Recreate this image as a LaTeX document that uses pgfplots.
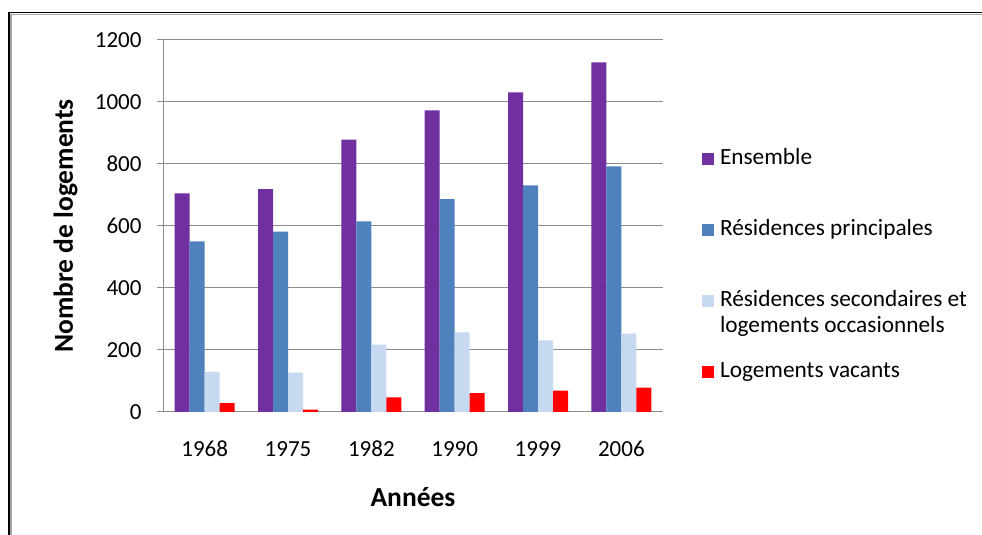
\documentclass[border=0pt]{standalone}
\usepackage{fontspec}
\setmainfont{Carlito}
\usepackage{pgfplots}
\pgfplotsset{compat=1.18}
\definecolor{cPurple}{HTML}{7030A0}
\definecolor{cBlue}{HTML}{4F81BD}
\definecolor{cLight}{HTML}{C6D9F1}
\definecolor{cRed}{HTML}{FF0000}
\definecolor{cGrid}{RGB}{140,140,140}
\begin{document}
\begin{tikzpicture}
\useasboundingbox (0,0) rectangle (982pt,535pt);
\begin{scope}
\clip (0,0) rectangle (982pt,535pt);
\draw[black, line width=1.7pt] (9pt,-5pt) -- (9pt,522.5pt) -- (995pt,522.5pt);
\draw[gray!70, line width=1.5pt] (10.9pt,-5pt) -- (10.9pt,520.6pt) -- (995pt,520.6pt);
\end{scope}
\begin{axis}[
  at={(163pt,123pt)}, anchor=south west,
  scale only axis, width=500pt, height=372pt,
  ybar=0pt, bar width=15pt,
  xmin=-0.5, xmax=5.5, ymin=0, ymax=1200,
  xtick=data, xticklabels={1968,1975,1982,1990,1999,2006},
  ytick={0,200,400,600,800,1000,1200},
  axis x line*=bottom, axis y line*=left,
  axis line style={draw=cGrid, line width=1pt, -},
  x axis line style={-}, y axis line style={-},
  xtick style={draw=none},
  ytick style={draw=cGrid, line width=1pt},
  tick align=outside, major tick length=6.5pt,
  ymajorgrids, grid style={draw=cGrid, line width=1pt},
  /pgf/number format/assume math mode=true,
  /pgf/number format/1000 sep={},
  tick label style={font=\fontsize{23}{27}\selectfont},
  yticklabel style={inner sep=0pt, anchor=east, xshift=-14.8pt},
  xticklabel style={inner sep=0pt, anchor=base, yshift=-38.5pt},
  xlabel={Années}, ylabel={Nombre de logements},
  label style={font=\bfseries\fontsize{27.5}{32}\selectfont},
  xlabel style={at={(axis description cs:0.5,-0.2527)}, anchor=base},
  ylabel style={at={(axis description cs:-0.195,0.5)}, anchor=center},
  legend cell align=left,
  legend style={at={(axis description cs:1.078,0.7097)}, anchor=north west,
    draw=none, fill=none, inner sep=0pt, outer sep=0pt,
    row sep=49pt, column sep=6pt,
    font=\fontsize{23.3}{26}\selectfont,
    nodes={inner sep=0pt, outer sep=0pt, text height=17pt, text depth=5pt}},
  legend image code/.code={\fill[#1] (0pt,-6pt) rectangle (12pt,6pt);},
]
\addplot[fill=cPurple, draw=none] coordinates {(0,705) (1,719) (2,879) (3,973) (4,1031) (5,1128)};
\addplot[fill=cBlue, draw=none] coordinates {(0,550) (1,582) (2,615) (3,687) (4,731) (5,792)};
\addplot[fill=cLight, draw=none] coordinates {(0,130) (1,127) (2,217) (3,257) (4,231) (5,253)};
\addplot[fill=cRed, draw=none] coordinates {(0,29) (1,8) (2,47) (3,61) (4,69) (5,79)};
\legend{Ensemble, Résidences principales, {\begin{tabular}[t]{@{}l@{}}Résidences secondaires et\\logements occasionnels\end{tabular}}, Logements vacants}
\end{axis}
\end{tikzpicture}
\end{document}
